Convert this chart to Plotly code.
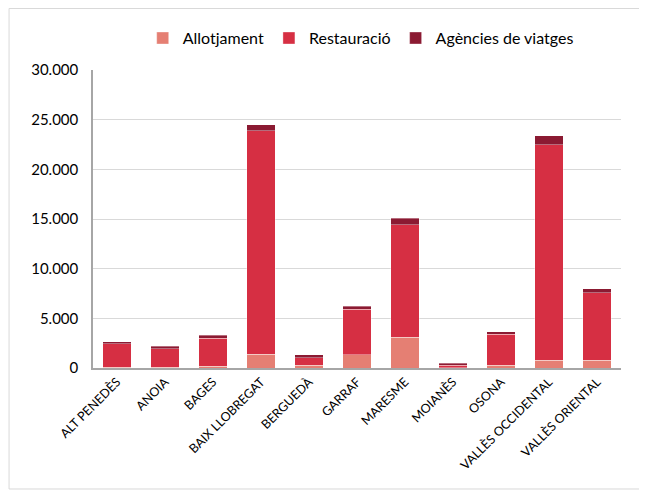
import plotly.graph_objects as go

categories = ["ALT PENEDÈS", "ANOIA", "BAGES", "BAIX LLOBREGAT", "BERGUEDÀ", "GARRAF",
              "MARESME", "MOIANÈS", "OSONA", "VALLÈS OCCIDENTAL", "VALLÈS ORIENTAL"]
allotjament = [80, 60, 170, 1400, 270, 1340, 3090, 50, 300, 800, 800]
restauracio = [2340, 1870, 2850, 22500, 770, 4600, 11310, 250, 3090, 21690, 6760]
agencies = [230, 270, 300, 570, 270, 300, 670, 200, 270, 870, 400]
y_ticks = [0, 5000, 10000, 15000, 20000, 25000, 30000]

FONT = "Lato, Carlito, 'Liberation Sans', sans-serif"

fig = go.Figure()
for name, vals, col in [("Allotjament", allotjament, "#E57F73"),
                        ("Restauració", restauracio, "#D62F43"),
                        ("Agències de viatges", agencies, "#8B1A32")]:
    fig.add_trace(go.Bar(x=categories, y=vals, name=name,
                         marker=dict(color=col, line=dict(color="rgba(255,255,255,0.6)", width=0.6))))

fig.update_layout(
    barmode="stack",
    bargap=0.4,
    width=639, height=483,
    margin=dict(l=85, r=26, t=62, b=123),
    plot_bgcolor="white", paper_bgcolor="white",
    separators=",.",
    font=dict(family=FONT, color="#000000"),
    legend=dict(orientation="h", x=0.507, xanchor="center", y=1.107, yanchor="middle",
                font=dict(size=16), itemwidth=30, tracegroupgap=0, traceorder="normal"),
    showlegend=True,
    shapes=[dict(type="rect", xref="paper", yref="paper",
                 x0=-0.159, x1=1.0455, y0=-0.406, y1=1.2064,
                 line=dict(color="#D9D9D9", width=1), fillcolor="rgba(0,0,0,0)", layer="below")],
)
fig.update_xaxes(tickangle=-45, tickfont=dict(size=12.5), showline=True, linecolor="#A6A6A6",
                 linewidth=1.5, ticks="", showgrid=False)
fig.update_yaxes(range=[0, 30000], tickvals=y_ticks, tickformat=",", tickfont=dict(size=15),
                 showgrid=True, gridcolor="#D9D9D9", gridwidth=1.2, showline=True,
                 linecolor="#A6A6A6", linewidth=1.5, ticks="", zeroline=False,
                 ticklabelstandoff=10)

fig.write_html("out.html")
